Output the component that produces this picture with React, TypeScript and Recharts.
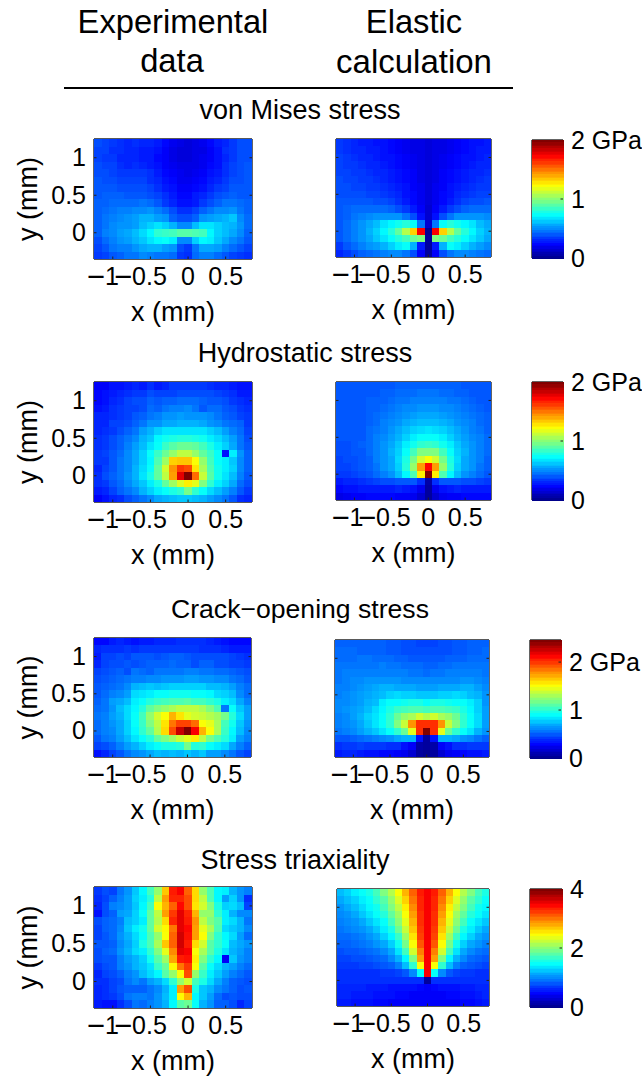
import React from 'react';
import { ScatterChart, Scatter, XAxis, YAxis, Label } from 'recharts';

const FONT = '"Liberation Sans", Arial, sans-serif';
const xCenters = [-1.2, -1.1, -1.0, -0.9, -0.8, -0.7, -0.6, -0.5, -0.4, -0.3, -0.2, -0.1, 0, 0.1, 0.2, 0.3, 0.4, 0.5, 0.6, 0.7, 0.8];
const yCenters = [1.2, 1.1, 1.0, 0.9, 0.8, 0.7, 0.6, 0.5, 0.4, 0.3, 0.2, 0.1, 0, -0.1, -0.2, -0.3];
const xTickValues = [-1, -0.5, 0, 0.5];
const yTickValues = [0, 0.5, 1];

// Cell levels in percent of each panel's colour scale, rows from top (y = 1.2) to bottom (y = -0.3).
const vonMisesExperimental = [
[20,19,18,17,16,17,16,16,15,13,11,10,9,10,11,13,15,16,18,20,20],
[19,19,17,17,16,16,15,15,14,12,10,9,9,10,10,12,14,17,18,20,20],
[19,18,18,16,16,16,15,15,13,12,10,9,9,10,11,12,14,16,18,20,20],
[20,19,19,17,16,17,16,15,14,12,11,10,10,10,11,13,14,17,19,20,21],
[20,20,19,18,18,18,18,17,15,13,12,11,10,11,12,14,15,17,19,20,21],
[21,20,20,19,19,19,19,17,16,14,13,11,11,12,13,15,16,18,20,20,21],
[21,21,21,20,20,20,20,19,17,15,14,12,12,13,14,16,18,19,21,21,21],
[21,22,22,22,21,21,21,20,19,17,15,13,13,15,16,18,20,21,22,21,21],
[22,22,23,23,23,23,24,23,21,18,16,14,14,15,18,20,22,24,24,23,22],
[22,23,24,25,25,26,26,27,25,23,20,17,17,19,22,24,26,26,27,24,22],
[22,24,25,26,27,28,30,30,28,27,22,20,20,22,27,28,29,30,32,26,23],
[22,24,26,27,27,28,31,33,35,33,30,26,26,31,35,35,33,31,30,27,23],
[22,25,26,28,29,31,34,37,42,43,44,46,46,45,44,37,33,31,29,26,22],
[20,23,25,27,28,30,32,35,37,38,36,26,26,33,37,36,32,29,26,24,21],
[19,21,24,25,25,27,29,30,30,28,27,20,18,24,29,29,28,25,23,21,19],
[18,19,21,22,24,24,26,25,24,24,23,18,17,23,25,25,23,21,19,18,17],
];
const vonMisesElastic = [
[18,17,16,15,15,14,14,13,12,11,10,10,9,10,10,11,12,13,14,14,15],
[18,17,16,16,15,15,14,13,12,11,10,10,9,10,10,11,12,13,14,15,15],
[19,18,17,16,16,15,14,14,13,12,11,10,9,10,11,12,13,14,14,15,16],
[19,18,18,17,16,16,15,14,13,12,11,10,9,10,11,12,13,14,15,16,16],
[19,19,18,18,17,16,16,15,14,13,12,10,9,10,12,13,14,15,16,16,17],
[20,19,19,18,18,17,16,15,14,13,12,10,9,10,12,13,14,15,16,17,18],
[20,20,19,19,18,18,17,16,15,14,12,11,9,11,12,14,15,16,17,18,18],
[20,20,20,20,19,19,18,17,16,14,13,11,9,11,13,14,16,17,18,19,19],
[21,21,21,21,21,20,20,19,17,15,13,11,9,11,13,15,17,19,20,20,21],
[21,22,23,23,23,23,23,22,20,18,15,12,8,12,15,18,20,22,23,23,23],
[21,22,24,25,26,27,27,27,27,24,20,14,8,14,20,24,27,27,27,27,26],
[21,23,25,27,29,31,35,37,39,41,38,24,8,24,38,41,39,37,35,31,29],
[21,23,25,27,30,33,37,41,47,55,67,88,2,88,67,55,47,41,37,33,30],
[21,23,25,27,29,32,35,38,41,44,48,50,3,50,48,44,41,38,35,32,29],
[18,21,23,25,27,28,30,33,36,38,30,15,3,15,30,38,36,33,30,28,26],
[16,18,20,22,23,24,25,26,26,24,20,12,3,12,20,24,26,26,25,24,23],
];
const hydrostaticExperimental = [
[12,12,14,14,15,16,15,17,15,16,18,18,18,18,18,17,16,16,15,14,14],
[13,14,15,16,17,18,18,20,19,19,19,20,20,20,20,20,19,18,17,15,15],
[13,14,16,17,19,20,20,22,21,22,22,23,23,23,22,21,21,20,18,17,16],
[14,15,17,18,19,19,20,23,22,24,25,25,26,24,21,23,23,21,20,18,17],
[16,16,17,18,19,21,22,24,25,27,27,28,27,27,27,26,24,22,21,19,18],
[16,16,19,19,20,22,24,27,27,29,29,30,30,30,29,27,26,24,23,22,18],
[16,17,18,20,22,24,28,30,33,35,35,35,35,35,35,33,31,28,25,23,19],
[17,18,20,22,24,26,30,32,37,39,40,41,41,40,39,36,34,31,28,24,20],
[17,18,20,22,25,28,31,35,38,43,46,48,48,47,44,40,36,33,29,24,21],
[18,19,21,23,26,29,33,38,43,48,52,56,56,52,47,43,38,14,36,27,22],
[18,18,21,24,26,29,33,37,45,53,67,68,68,62,52,44,38,36,32,26,22],
[16,19,21,24,26,30,34,38,47,58,73,82,80,65,54,45,39,36,33,26,22],
[17,20,22,24,27,30,35,40,47,56,72,90,100,77,57,46,39,35,31,25,21],
[17,18,21,23,26,29,32,36,40,47,53,59,64,60,50,42,36,33,29,23,20],
[15,16,19,22,24,26,30,33,36,38,40,42,49,42,38,34,31,28,25,21,18],
[12,14,16,17,20,22,24,26,29,30,31,32,32,31,30,28,26,24,21,17,16],
];
const hydrostaticElastic = [
[21,21,21,21,21,21,21,21,22,22,22,22,22,22,22,22,22,21,21,21,21],
[21,21,21,21,21,21,22,22,23,23,23,24,24,24,23,23,22,22,21,21,21],
[21,21,21,21,22,22,22,23,24,24,25,25,25,25,25,24,24,23,22,21,21],
[21,21,21,21,22,22,23,24,25,26,26,27,27,27,26,26,25,24,23,22,21],
[21,21,21,21,22,23,24,25,26,27,28,29,29,29,28,27,26,25,24,23,22],
[21,21,21,21,22,23,25,26,27,29,30,31,31,31,30,29,27,26,25,23,22],
[21,21,21,21,23,24,25,27,29,31,33,34,35,34,33,31,29,27,25,24,22],
[21,21,21,21,23,25,26,28,30,33,36,38,38,38,36,33,30,28,26,25,23],
[20,20,21,22,23,25,27,29,32,36,39,42,43,42,39,36,32,29,27,25,23],
[20,20,21,21,23,25,27,30,33,38,44,50,50,50,44,38,33,30,27,25,23],
[19,20,20,21,22,25,27,29,34,40,49,58,62,58,49,40,34,29,27,25,22],
[19,19,20,21,22,24,27,29,33,41,52,72,87,72,52,41,33,29,27,24,22],
[18,18,19,20,21,23,25,27,31,37,45,64,100,64,45,37,31,27,25,23,21],
[15,16,16,17,18,19,20,20,21,21,21,17,4,17,21,21,21,20,20,19,18],
[13,14,14,15,15,15,15,15,16,15,14,11,3,11,14,15,16,15,15,15,15],
[10,11,12,12,13,13,13,13,12,12,11,8,3,8,11,12,12,13,13,13,13],
];
const crackExperimental = [
[13,13,15,16,15,14,15,15,16,16,16,17,17,17,17,16,15,14,13,13,13],
[16,17,17,17,18,17,18,18,18,18,18,18,18,18,17,17,17,16,15,15,15],
[15,19,19,20,19,21,21,21,20,21,22,22,21,20,20,20,20,20,19,18,17],
[16,19,20,20,21,20,21,22,22,22,23,22,22,20,22,22,20,20,19,19,18],
[19,20,21,22,20,24,23,22,24,24,24,24,25,25,24,24,23,23,22,21,20],
[20,21,22,23,24,25,25,26,26,27,27,27,28,28,27,27,26,26,24,23,21],
[21,22,23,24,26,30,31,32,31,32,33,33,33,33,33,31,31,30,28,25,23],
[21,23,25,26,28,34,35,36,38,38,39,39,39,38,38,37,34,33,31,26,23],
[22,24,28,29,31,36,38,41,43,44,45,45,46,44,44,42,40,36,34,29,25],
[23,24,27,31,34,37,41,47,50,52,54,56,56,56,54,50,45,24,38,32,28],
[24,25,28,30,34,38,44,52,58,62,70,65,60,58,57,55,53,49,41,34,28],
[23,25,27,29,33,38,43,50,56,65,76,81,81,77,62,60,54,44,39,32,27],
[23,25,26,29,33,37,42,47,55,66,80,93,100,88,70,62,54,43,37,31,26],
[21,24,25,28,31,35,38,41,47,50,53,57,60,64,56,49,45,41,36,28,25],
[19,20,22,25,28,30,33,36,38,40,40,41,49,41,42,38,36,34,29,25,22],
[14,16,19,21,24,26,27,29,31,30,31,30,32,30,32,28,28,26,24,21,19],
];
const crackElastic = [
[22,22,22,22,22,22,22,21,21,20,20,19,19,19,20,20,21,21,22,22,22],
[23,23,23,22,22,22,22,21,21,20,20,20,20,20,20,20,21,21,22,22,23],
[23,23,23,24,24,23,23,23,22,22,21,21,21,21,21,22,22,22,23,23,23],
[24,24,24,24,24,24,25,24,24,23,23,23,22,22,23,23,24,24,24,24,24],
[24,25,25,25,25,25,25,25,25,25,24,24,23,24,24,25,25,25,25,25,24],
[24,25,26,26,27,27,27,27,27,26,26,26,26,26,26,26,26,27,27,26,25],
[25,25,26,27,28,29,30,30,29,29,29,28,28,28,29,29,29,30,30,28,26],
[25,26,27,28,29,30,31,33,34,33,33,32,32,32,33,33,34,33,31,30,27],
[26,26,27,28,30,31,36,38,38,39,40,40,38,40,40,39,38,38,36,33,27],
[26,27,28,29,31,34,37,40,43,44,45,45,44,45,45,44,43,40,37,33,28],
[25,26,28,30,33,35,38,42,48,52,54,58,55,58,54,52,48,42,38,34,28],
[25,26,27,29,32,35,38,42,50,57,73,83,83,83,73,57,50,42,38,34,28],
[24,25,26,28,30,32,35,38,42,48,60,83,100,83,60,48,42,38,35,30,27],
[21,21,22,23,24,25,26,27,29,30,30,14,3,14,30,30,29,27,26,24,22],
[17,18,18,19,18,18,18,17,17,14,12,4,3,4,12,14,17,17,18,18,18],
[15,16,16,15,14,14,13,13,12,11,8,3,2,3,8,11,12,13,14,14,15],
];
const triaxialityExperimental = [
[18,20,19,24,27,32,37,44,52,68,85,88,78,66,52,45,37,36,30,27,25],
[17,19,22,25,28,33,36,41,56,72,84,84,80,66,56,45,37,28,33,27,17],
[16,20,25,26,28,32,37,44,62,70,78,87,80,65,58,50,40,33,34,31,19],
[14,20,22,28,29,33,38,47,56,72,82,90,84,70,52,52,42,36,30,26,26],
[20,22,23,25,31,33,36,47,55,66,84,90,85,73,56,50,46,36,34,30,24],
[19,22,23,26,32,36,39,47,58,63,76,90,87,72,60,54,45,34,32,30,26],
[19,21,23,27,30,34,38,45,52,62,78,92,86,72,62,50,42,37,34,28,23],
[21,21,22,26,29,33,40,45,54,68,78,92,85,66,58,46,42,38,31,29,27],
[20,22,23,27,30,34,36,42,50,60,74,90,88,62,54,46,40,35,30,28,25],
[20,21,21,25,28,30,33,39,46,53,71,85,86,64,50,42,37,12,32,27,25],
[18,20,21,25,27,30,32,35,43,48,63,76,82,62,46,38,34,30,28,25,23],
[16,19,20,22,25,27,31,34,37,46,52,62,80,52,43,36,32,28,25,23,21],
[17,17,19,20,24,26,24,28,30,34,42,52,58,44,40,34,29,25,22,21,20],
[16,17,19,21,22,22,22,24,26,30,36,72,80,40,32,30,26,24,22,20,21],
[16,17,18,20,24,25,25,24,27,31,36,63,70,37,32,28,23,20,21,20,20],
[15,14,14,17,20,24,23,25,27,30,37,46,48,38,30,27,22,22,20,16,19],
];
const triaxialityElastic = [
[31,33,36,38,40,44,50,55,62,70,78,85,88,85,78,70,62,55,50,44,40],
[29,31,33,36,38,42,46,52,59,67,76,84,88,84,76,67,59,52,46,42,38],
[27,29,31,34,37,39,44,50,56,64,74,84,88,84,74,64,56,50,44,39,37],
[26,27,29,32,35,38,41,47,53,62,72,83,88,83,72,62,53,47,41,38,35],
[25,26,27,29,32,35,38,44,51,60,70,83,88,83,70,60,51,44,38,35,32],
[24,25,26,27,29,32,36,40,48,57,68,82,88,82,68,57,48,40,36,32,29],
[23,23,24,25,27,29,33,37,43,53,65,81,88,81,65,53,43,37,33,29,27],
[22,22,23,24,25,27,29,33,39,49,62,79,88,79,62,49,39,33,29,27,25],
[20,21,21,22,23,24,26,29,35,44,58,75,88,75,58,44,35,29,26,24,23],
[19,19,20,20,21,22,23,26,30,37,50,72,88,72,50,37,30,26,23,22,21],
[18,18,18,19,19,20,21,22,25,31,42,62,88,62,42,31,25,22,21,20,19],
[17,17,17,17,17,17,18,18,19,21,26,38,88,38,26,21,19,18,18,17,17],
[17,17,17,17,17,17,17,17,17,17,17,17,3,17,17,17,17,17,17,17,17],
[16,16,16,16,15,15,15,14,14,14,14,13,12,13,14,14,14,15,15,16,16],
[16,16,15,15,15,14,14,14,13,13,12,12,12,12,12,13,13,14,14,15,16],
[15,15,14,14,14,13,13,12,12,12,12,12,12,12,12,12,12,13,13,14,15],
];
const colorbarLevels = [1,2,4,5,7,8,10,12,13,15,16,18,20,21,23,24,26,27,29,31,32,34,35,37,38,40,42,43,45,46,48,49,51,53,54,56,57,59,60,62,64,65,67,68,70,71,73,75,76,78,79,81,82,84,86,87,89,90,92,93,95,97,98,100];

const heatmaps = [
  { rows: vonMisesExperimental, left: 94, top: 139, w: 158, h: 120, yAxis: true },
  { rows: vonMisesElastic, left: 336, top: 139, w: 155, h: 118, yAxis: false },
  { rows: hydrostaticExperimental, left: 94, top: 382, w: 158, h: 120, yAxis: true },
  { rows: hydrostaticElastic, left: 336, top: 382, w: 155, h: 118, yAxis: false },
  { rows: crackExperimental, left: 94, top: 638, w: 157, h: 119, yAxis: true },
  { rows: crackElastic, left: 335, top: 640, w: 154, h: 117, yAxis: false },
  { rows: triaxialityExperimental, left: 94, top: 887, w: 158, h: 121, yAxis: true },
  { rows: triaxialityElastic, left: 337, top: 889, w: 152, h: 117, yAxis: false },
];
const colorbars = [
  { max: 2, ticks: [0, 1, 2], left: 532, top: 140, w: 31, h: 118 },
  { max: 2, ticks: [0, 1, 2], left: 532, top: 382, w: 31, h: 118 },
  { max: 2.46, ticks: [0, 1, 2], left: 530, top: 640, w: 31, h: 118 },
  { max: 4, ticks: [0, 2, 4], left: 530, top: 889, w: 32, h: 118 },
];
const headings = [
  { text: 'Experimental', x: 173, y: 33, size: 32.7 },
  { text: 'data', x: 172, y: 72, size: 32.7 },
  { text: 'Elastic', x: 414, y: 33, size: 32.7 },
  { text: 'calculation', x: 414, y: 73, size: 33 },
  { text: 'von Mises stress', x: 300, y: 119, size: 27 },
  { text: 'Hydrostatic stress', x: 305, y: 362, size: 27 },
  { text: 'Crack\u2212opening stress', x: 300, y: 618, size: 26.6 },
  { text: 'Stress triaxiality', x: 295, y: 869, size: 27 },
];

const jet = (level: number) => {
  const t = level / 100;
  const c = (v: number) => Math.round(255 * Math.max(0, Math.min(1, v)));
  return `rgb(${c(Math.min(4 * t - 1.5, -4 * t + 4.5))},${c(Math.min(4 * t - 0.5, -4 * t + 3.5))},${c(Math.min(4 * t + 0.5, -4 * t + 2.5))})`;
};

const cellShape = (w: number, h: number) => (p: any) => (
  <rect x={p.cx - w / 2} y={p.cy - h / 2} width={w + 0.6} height={h + 0.6} fill={jet(p.payload.level)} shapeRendering="crispEdges" />
);

const TICK_STROKE = '#222';
const bottomTick = (negShift: number) => (p: any) => {
  const v = p.payload.value;
  return (
    <g>
      <line x1={p.x} x2={p.x} y1={p.y} y2={p.y - 2.5} stroke={TICK_STROKE} strokeWidth={1} />
      <text x={p.x + (v < 0 ? negShift : 0)} y={p.y + 26} textAnchor="middle" fontSize={25} fontFamily={FONT} fill="#000">
        {v < 0 ? <tspan fontSize={31} dy={2}>{'\u2212'}</tspan> : null}
        <tspan dy={v < 0 ? -2 : 0}>{Math.abs(v)}</tspan>
      </text>
    </g>
  );
};
const topTick = (p: any) => <line x1={p.x} x2={p.x} y1={p.y} y2={p.y + 2.5} stroke={TICK_STROKE} strokeWidth={1} />;
const rightTick = (p: any) => <line x1={p.x} x2={p.x - 2.5} y1={p.y} y2={p.y} stroke={TICK_STROKE} strokeWidth={1} />;
const leftMark = (p: any) => <line x1={p.x} x2={p.x + 2.5} y1={p.y} y2={p.y} stroke={TICK_STROKE} strokeWidth={1} />;
const leftTick = (p: any) => (
  <g>
    <line x1={p.x} x2={p.x + 2.5} y1={p.y} y2={p.y} stroke={TICK_STROKE} strokeWidth={1} />
    <text x={p.x - 8} y={p.y + 8.5} textAnchor="end" fontSize={25} fontFamily={FONT} fill="#000">{p.payload.value}</text>
  </g>
);
const axisLine = { stroke: '#222', strokeWidth: 1.4 };

const Heatmap = ({ rows, left, top, w, h, yAxis }: any) => {
  const data = rows.flatMap((row: number[], r: number) =>
    row.map((level, c) => ({ x: xCenters[c], y: yCenters[r], level })));
  const xd: [number, number] = [-1.25, 0.85];
  const yd: [number, number] = [-0.35, 1.25];
  const base = { type: 'number' as const, allowDataOverflow: true, tickSize: 0, tickMargin: 0, tickLine: false, interval: 0 as const, axisLine };
  return (
    <div style={{ position: 'absolute', left: left - 90, top: top - 10 }}>
      <ScatterChart width={w + 110} height={h + 90} margin={{ top: 9, left: 89, right: 19, bottom: 79 }}>
        <Scatter data={data} dataKey="y" xAxisId="b" yAxisId="l" isAnimationActive={false} shape={cellShape(w / 21, h / 16)} />
        <XAxis {...base} xAxisId="b" dataKey="x" domain={xd} ticks={xTickValues} height={1} orientation="bottom" tick={bottomTick(yAxis ? -10 : -7)}>
          <Label value="x (mm)" position="bottom" offset={42} fontSize={27} fontFamily={FONT} fill="#000" />
        </XAxis>
        <XAxis {...base} xAxisId="t" domain={xd} ticks={xTickValues} height={1} orientation="top" tick={topTick} />
        <YAxis {...base} yAxisId="l" dataKey="y" domain={yd} ticks={yTickValues} width={1} orientation="left" tick={yAxis ? leftTick : leftMark}>
          {yAxis ? <Label value="y (mm)" angle={-90} position="left" offset={66} fontSize={27} fontFamily={FONT} fill="#000" style={{ textAnchor: 'middle' }} /> : null}
        </YAxis>
        <YAxis {...base} yAxisId="r" domain={yd} ticks={yTickValues} width={1} orientation="right" tick={rightTick} />
      </ScatterChart>
    </div>
  );
};

const Colorbar = ({ max, ticks, left, top, w, h }: any) => {
  const data = colorbarLevels.map((level) => ({ x: 0.5, y: ((level - 0.7) / 100) * max, level }));
  const barTick = (p: any) => (
    <g>
      {p.payload.value > 0 && p.payload.value < max ? <line x1={p.x} x2={p.x - 2.5} y1={p.y} y2={p.y} stroke={TICK_STROKE} strokeWidth={1} /> : null}
      <text x={p.x + 8} y={p.y + 9} textAnchor="start" fontSize={25} fontFamily={FONT} fill="#000">
        {p.payload.value === ticks[2] && max <= 2.46 ? `${p.payload.value} GPa` : p.payload.value}
      </text>
    </g>
  );
  return (
    <div style={{ position: 'absolute', left: left - 10, top: top - 20 }}>
      <ScatterChart width={w + 95} height={h + 40} margin={{ top: 19, left: 9, right: 84, bottom: 19 }}>
        <Scatter data={data} dataKey="y" xAxisId="b" yAxisId="r" isAnimationActive={false} shape={cellShape(w, h / 64)} />
        <XAxis xAxisId="b" type="number" dataKey="x" domain={[0, 1]} height={1} tick={false} tickLine={false} axisLine={axisLine} />
        <XAxis xAxisId="t" type="number" domain={[0, 1]} height={1} orientation="top" tick={false} tickLine={false} axisLine={axisLine} />
        <YAxis yAxisId="l" type="number" domain={[0, max]} width={1} orientation="left" tick={false} tickLine={false} axisLine={axisLine} />
        <YAxis yAxisId="r" type="number" dataKey="y" domain={[0, max]} ticks={ticks} width={1} orientation="right" tick={barTick} tickSize={0} tickMargin={0} tickLine={false} interval={0} axisLine={axisLine} />
      </ScatterChart>
    </div>
  );
};

export default function App() {
  return (
    <div style={{ position: 'absolute', left: 0, top: 0, width: 642, height: 1079, background: '#fff', overflow: 'hidden' }}>
      <style>{`.recharts-scatter{filter:blur(0.5px)}`}</style>
      {heatmaps.map((m, i) => <Heatmap key={i} {...m} />)}
      {colorbars.map((b, i) => <Colorbar key={i} {...b} />)}
      <svg width={642} height={130} style={{ position: 'absolute', left: 0, top: 0, overflow: 'visible', pointerEvents: 'none' }}>
        {headings.map((t) => (
          <text key={t.text} x={t.x} y={t.y} textAnchor="middle" fontSize={t.size} fontFamily={FONT} fill="#000">{t.text}</text>
        ))}
        <line x1={64} x2={513} y1={88} y2={88} stroke="#000" strokeWidth={2} />
      </svg>
    </div>
  );
}
